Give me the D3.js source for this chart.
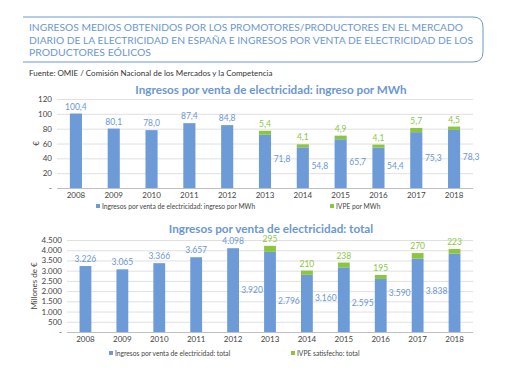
<!DOCTYPE html>
<html>
<head>
<meta charset="utf-8">
<script src="https://cdn.jsdelivr.net/npm/d3@7"></script>
<style>
  body { margin: 0; background: #fff; }
  svg { display: block; font-family: Lato, "Open Sans", sans-serif; }
</style>
</head>
<body>
<div class="chart"></div>
<script>
var width = 510,
    height = 382;

var blue = "#6c9bd8",
    green = "#8cc63f",
    textBlue = "#6b97d3";

// data
var years = ["2008", "2009", "2010", "2011", "2012", "2013", "2014", "2015", "2016", "2017", "2018"];
var mwhIngreso = [100.4, 80.1, 78.0, 87.4, 84.8, 71.8, 54.8, 65.7, 54.4, 75.3, 78.3];
var mwhIVPE = [null, null, null, null, null, 5.4, 4.1, 4.9, 4.1, 5.7, 4.5];
var totalIngreso = [3226, 3065, 3366, 3657, 4098, 3920, 2796, 3160, 2595, 3590, 3838];
var totalIVPE = [null, null, null, null, null, 295, 210, 238, 195, 270, 223];
var mwhTicks = [0, 20, 40, 60, 80, 100, 120];
var totalTicks = [0, 500, 1000, 1500, 2000, 2500, 3000, 3500, 4000, 4500];

var svg = d3.select(".chart")
    .append("svg")
    .attr("width", width)
    .attr("height", height);

// header box
svg.append("path")
    .attr("d", "M23,17 H473 Q483,17 483,27 V52 Q483,62 473,62 H23")
    .attr("fill", "none")
    .attr("stroke", textBlue)
    .attr("stroke-width", 1);

var titleLines = [
    "INGRESOS MEDIOS OBTENIDOS POR LOS PROMOTORES/PRODUCTORES EN EL MERCADO",
    "DIARIO DE LA ELECTRICIDAD EN ESPAÑA E INGRESOS POR VENTA DE ELECTRICIDAD DE LOS",
    "PRODUCTORES EÓLICOS"
];
var titleLens = [434, 444, 122];
svg.selectAll(".head")
    .data(titleLines)
    .join("text")
    .attr("class", "head")
    .attr("x", 29)
    .attr("y", (d, i) => 31 + i * 12.5)
    .attr("textLength", (d, i) => titleLens[i])
    .attr("lengthAdjust", "spacingAndGlyphs")
    .attr("fill", textBlue)
    .style("font-size", "10.4px")
    .text(d => d);

svg.append("text")
    .attr("x", 29)
    .attr("y", 76)
    .attr("fill", "#333")
    .style("font-size", "8px")
    .text("Fuente: OMIE / Comisión Nacional de los Mercados y la Competencia");

function fmt(v, dec) {
    if (dec) return d3.format(".1f")(v).replace(".", ",");
    return d3.format(",")(v).replace(/,/g, ".");
}

function drawChart(opt) {
    var x = d3.scaleBand()
        .domain(years)
        .range([opt.left, opt.right])
        .paddingInner(0.68)
        .paddingOuter(0.34);

    var y = d3.scaleLinear()
        .domain([0, opt.max])
        .range([opt.bottom, opt.top]);

    var g = svg.append("g");

    g.append("text")
        .attr("x", 271)
        .attr("y", opt.titleY)
        .attr("text-anchor", "middle")
        .attr("fill", textBlue)
        .style("font-size", "11.7px")
        .style("font-weight", "bold")
        .text(opt.title);

    // gridlines
    g.selectAll(".grid")
        .data(opt.ticks)
        .join("line")
        .attr("x1", opt.left)
        .attr("x2", opt.right)
        .attr("y1", d => y(d) + 0.5)
        .attr("y2", d => y(d) + 0.5)
        .attr("stroke", d => d === 0 ? "#bfbfbf" : "#e0e0e0");

    g.selectAll(".ytick")
        .data(opt.ticks)
        .join("text")
        .attr("x", opt.left - 5)
        .attr("y", d => y(d) + 3)
        .attr("text-anchor", "end")
        .attr("fill", "#444")
        .style("font-size", "8px")
        .text(d => d === 0 ? "-" : fmt(d, false));

    g.append("text")
        .attr("transform", `translate(${opt.ylabX}, ${(opt.top + opt.bottom) / 2}) rotate(-90)`)
        .attr("text-anchor", "middle")
        .attr("fill", "#444")
        .style("font-size", "8px")
        .text(opt.ylab);

    g.selectAll(".xtick")
        .data(years)
        .join("text")
        .attr("x", d => x(d) + x.bandwidth() / 2)
        .attr("y", opt.bottom + 10)
        .attr("text-anchor", "middle")
        .attr("fill", "#444")
        .style("font-size", "8px")
        .text(d => d);

    var rows = years.map((yr, i) => ({ yr: yr, a: opt.a[i], b: opt.b[i] }));

    g.selectAll(".barA")
        .data(rows)
        .join("rect")
        .attr("x", d => x(d.yr))
        .attr("width", x.bandwidth())
        .attr("y", d => y(d.a))
        .attr("height", d => y(0) - y(d.a))
        .attr("fill", blue);

    g.selectAll(".barB")
        .data(rows.filter(d => d.b != null))
        .join("rect")
        .attr("x", d => x(d.yr))
        .attr("width", x.bandwidth())
        .attr("y", d => y(d.a + d.b))
        .attr("height", d => y(d.a) - y(d.a + d.b))
        .attr("fill", green);

    // labels of main series
    g.selectAll(".labA")
        .data(rows)
        .join("text")
        .attr("x", d => x(d.yr) + x.bandwidth() / 2 + (d.b == null ? 0 : opt.side))
        .attr("y", d => d.b == null ? y(d.a) - 4 : y(d.a / 2) + 1)
        .attr("text-anchor", "middle")
        .attr("fill", textBlue)
        .style("font-size", "8.5px")
        .text(d => fmt(d.a, opt.dec));

    g.selectAll(".labB")
        .data(rows.filter(d => d.b != null))
        .join("text")
        .attr("x", d => x(d.yr) + x.bandwidth() / 2)
        .attr("y", d => y(d.a + d.b) - 4)
        .attr("text-anchor", "middle")
        .attr("fill", green)
        .style("font-size", "8.5px")
        .text(d => fmt(d.b, opt.dec));

    // legend
    var leg = g.selectAll(".leg")
        .data(opt.legend)
        .join("g")
        .attr("transform", d => `translate(${d.x}, ${opt.legY})`);
    leg.append("rect")
        .attr("x", 0)
        .attr("y", -5)
        .attr("width", 4)
        .attr("height", 4)
        .attr("fill", d => d.c);
    leg.append("text")
        .attr("x", 6)
        .attr("y", 0)
        .attr("fill", "#444")
        .style("font-size", "6.7px")
        .text(d => d.t);
}

drawChart({
    title: "Ingresos por venta de electricidad: ingreso por MWh",
    titleY: 94,
    left: 57, right: 473, top: 99, bottom: 188,
    max: 120, ticks: mwhTicks,
    a: mwhIngreso, b: mwhIVPE, dec: true, side: 17,
    ylab: "€", ylabX: 39,
    legY: 209,
    legend: [
        { x: 96, c: blue, t: "Ingresos por venta de electricidad: ingreso por MWh" },
        { x: 330, c: green, t: "IVPE por MWh" }
    ]
});

drawChart({
    title: "Ingresos por venta de electricidad: total",
    titleY: 233,
    left: 67, right: 473, top: 240, bottom: 332,
    max: 4500, ticks: totalTicks,
    a: totalIngreso, b: totalIVPE, dec: false, side: -18,
    ylab: "Millones de  €", ylabX: 37,
    legY: 356,
    legend: [
        { x: 109, c: blue, t: "Ingresos por venta de electricidad: total" },
        { x: 291, c: green, t: "IVPE satisfecho: total" }
    ]
});
</script>
</body>
</html>
